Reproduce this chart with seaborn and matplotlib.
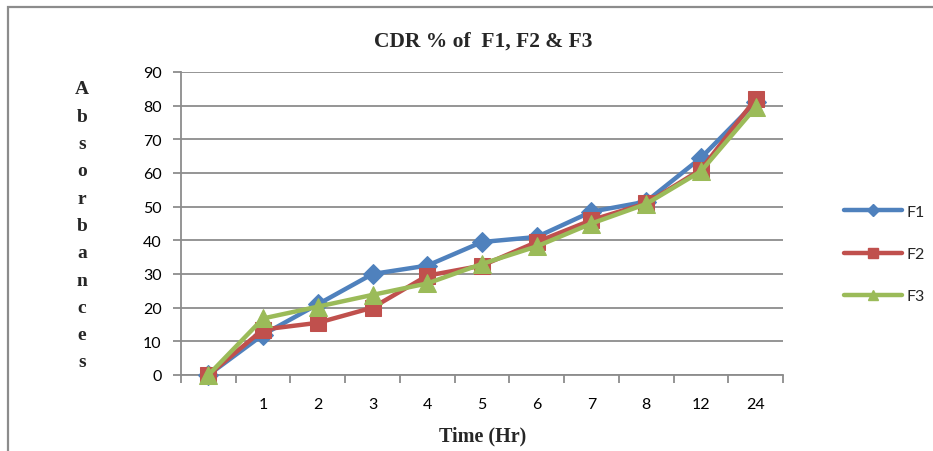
import numpy as np
import pandas as pd
import matplotlib
matplotlib.use("Agg")
import matplotlib.pyplot as plt
import seaborn as sns
from matplotlib.lines import Line2D
from matplotlib.patches import Rectangle

# ---- data ----
times = [0, 1, 2, 3, 4, 5, 6, 7, 8, 12, 24]
tick_labels = ["", "1", "2", "3", "4", "5", "6", "7", "8", "12", "24"]
f1 = [0, 12, 21, 30, 32.5, 39.5, 41, 48.5, 51.5, 64.5, 81]
f2 = [0, 13.5, 15.5, 20, 29.5, 32.5, 39.5, 46, 51, 61, 82]
f3 = [0, 16.8, 20.3, 23.8, 27.2, 33, 38.2, 45, 50.8, 60.5, 79.5]
series_names = ["F1", "F2", "F3"]
colors = ["#4F81BD", "#C0504D", "#9BBB59"]
markers = ["D", "s", "^"]
msizes = [10, 11, 13]

pos = list(range(len(times)))
df = pd.DataFrame({
    "pos": pos * 3,
    "value": f1 + f2 + f3,
    "series": sum([[n] * len(times) for n in series_names], []),
})

sns.set_style("white")
fig = plt.figure(figsize=(9.33, 4.52), dpi=100)
ax = fig.add_axes([181 / 933, 1 - 376 / 452, (783 - 181) / 933, (376 - 73) / 452])

# chart border
fig.patches.append(Rectangle((8 / 933, -0.05), 1.2, 1 - 8 / 452 + 0.05,
                             transform=fig.transFigure, fill=False,
                             edgecolor="#8c8c8c", linewidth=1.6))

for name, c, m, ms in zip(series_names, colors, markers, msizes):
    sub = df[df["series"] == name]
    sns.lineplot(data=sub, x="pos", y="value", ax=ax, color=c, linewidth=3.2,
                 marker=m, markersize=ms, markeredgecolor=c, legend=False,
                 clip_on=False, zorder=3)

ax.set_xlim(-0.5, len(times) - 0.5)
ax.set_ylim(0, 90)
ax.set_yticks(np.arange(0, 91, 10))
ax.yaxis.grid(True, color="#8c8c8c", linewidth=1.3)
ax.xaxis.grid(False)
ax.set_axisbelow(True)

ax.set_xticks(pos)
ax.set_xticklabels(tick_labels)
ax.set_xticks(np.arange(-0.5, len(times), 1.0), minor=True)
ax.tick_params(axis="x", which="major", length=0, pad=16, labelsize=11.5)
ax.tick_params(axis="x", which="minor", length=6, color="#8c8c8c", width=1.3,
               direction="out", bottom=True)
ax.tick_params(axis="y", which="major", length=6, color="#8c8c8c", width=1.3,
               direction="out", left=True, pad=8, labelsize=11.5)
for lbl in ax.get_xticklabels() + ax.get_yticklabels():
    lbl.set_fontfamily("Lato")
    lbl.set_color("black")

for s in ["top", "right"]:
    ax.spines[s].set_visible(False)
for s in ["left", "bottom"]:
    ax.spines[s].set_color("#8c8c8c")
    ax.spines[s].set_linewidth(1.3)

ax.set_xlabel("")
ax.set_ylabel("")

fig.text(483 / 933, 1 - 42 / 452, "CDR % of  F1, F2 & F3", ha="center", va="center",
         fontfamily="Liberation Serif", fontweight="bold", fontsize=15.5)
fig.text(483 / 933, 1 - 436 / 452, "Time (Hr)", ha="center", va="center",
         fontfamily="Liberation Serif", fontweight="bold", fontsize=14.5)

letters = list("Absorbances")
y0, y1 = 90, 363
for i, ch in enumerate(letters):
    y = y0 + (y1 - y0) * i / (len(letters) - 1)
    fig.text(82 / 933, 1 - y / 452, ch, ha="center", va="center",
             fontfamily="Liberation Serif", fontweight="bold", fontsize=14)

handles = [Line2D([0], [0], color=c, lw=3.2, marker=m, markersize=ms * 0.6,
                  markeredgecolor=c)
           for c, m, ms in zip(colors, markers, msizes)]
leg = fig.legend(handles, series_names, loc="center left",
                 bbox_to_anchor=(830 / 933, 1 - 255 / 452), frameon=False,
                 handlelength=3.6, handletextpad=0.3, labelspacing=1.75,
                 prop={"family": "Lato", "size": 11.5})

fig.savefig("out.png", dpi=100)
